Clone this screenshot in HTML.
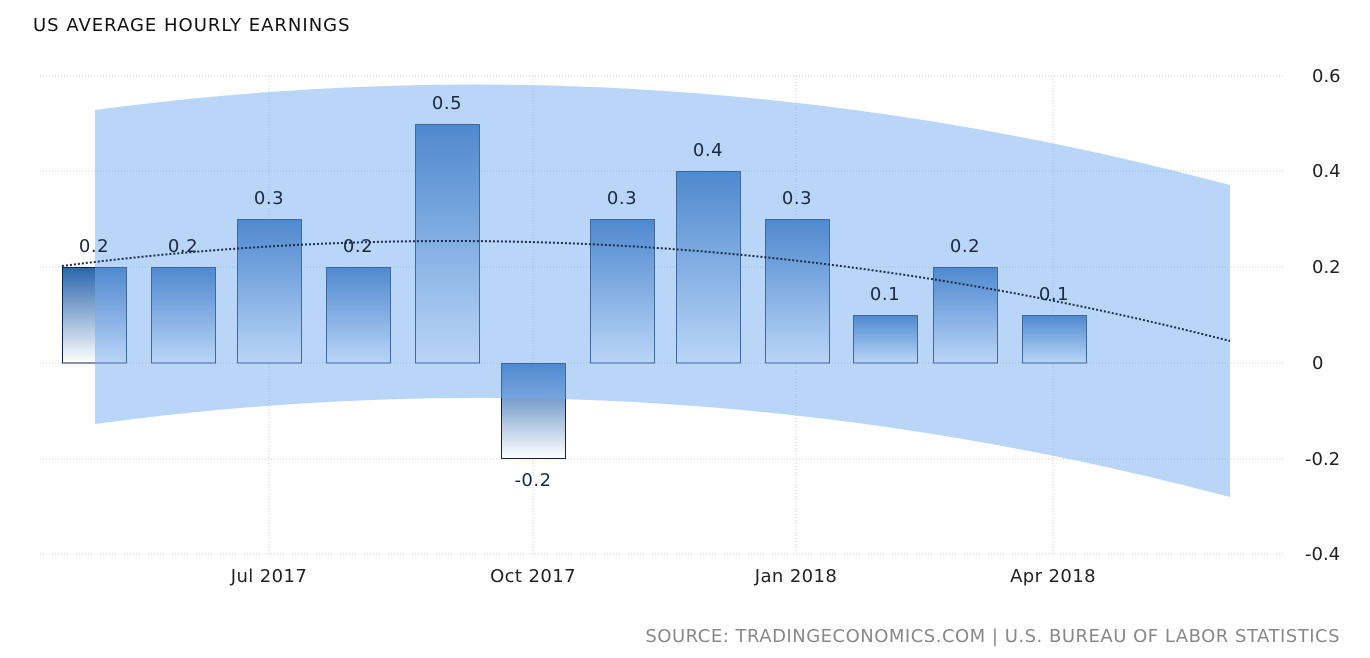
<!DOCTYPE html>
<html><head><style>body{margin:0;background:#fff}svg{display:block}text{font-family:"DejaVu Sans","Liberation Sans",sans-serif}</style></head><body>
<svg width="1370" height="658" viewBox="0 0 1370 658" xmlns="http://www.w3.org/2000/svg">
<defs><linearGradient id="g" x1="0" y1="0" x2="0" y2="1"><stop offset="0" stop-color="#2a66ad"/><stop offset="1" stop-color="#ffffff"/></linearGradient></defs>
<text x="33" y="31" font-size="18" fill="#111" letter-spacing="1">US AVERAGE HOURLY EARNINGS</text>
<g stroke="#cfcfcf" stroke-dasharray="1,2" stroke-width="1">
<line x1="40" y1="76" x2="1285" y2="76"/><line x1="40" y1="171" x2="1285" y2="171"/><line x1="40" y1="267" x2="1285" y2="267"/><line x1="40" y1="363" x2="1285" y2="363"/><line x1="40" y1="459" x2="1285" y2="459"/><line x1="40" y1="554" x2="1285" y2="554"/>
<line x1="269" y1="76" x2="269" y2="554"/><line x1="533" y1="76" x2="533" y2="554"/><line x1="796" y1="76" x2="796" y2="554"/><line x1="1053" y1="76" x2="1053" y2="554"/>
</g>
<g stroke="#0f2448" stroke-width="1" fill="url(#g)">
<rect x="62.5" y="267.5" width="64" height="95.5"/><rect x="151.5" y="267.5" width="64" height="95.5"/><rect x="237.5" y="219.5" width="64" height="143.5"/><rect x="326.5" y="267.5" width="64" height="95.5"/><rect x="415.5" y="124.5" width="64" height="238.5"/><rect x="501.5" y="363.5" width="64" height="95"/><rect x="590.5" y="219.5" width="64" height="143.5"/><rect x="676.5" y="171.5" width="64" height="191.5"/><rect x="765.5" y="219.5" width="64" height="143.5"/><rect x="853.5" y="315.5" width="64" height="47.5"/><rect x="933.5" y="267.5" width="64" height="95.5"/><rect x="1022.5" y="315.5" width="64" height="47.5"/>
</g>
<path d="M95,110 Q662,34 1230,185 L1230,497 Q662,347 95,424 Z" fill="rgba(115,172,240,0.5)"/>
<path d="M62,266 Q646,191 1230,341" fill="none" stroke="#1a2e50" stroke-width="2" stroke-dasharray="2,2"/>
<g font-size="18" fill="#1a2a44" text-anchor="middle" letter-spacing="0.5">
<text x="94" y="252">0.2</text><text x="183" y="252">0.2</text><text x="269" y="204">0.3</text><text x="358" y="252">0.2</text><text x="447" y="109">0.5</text><text x="533" y="486">-0.2</text><text x="622" y="204">0.3</text><text x="708" y="156">0.4</text><text x="797" y="204">0.3</text><text x="885" y="300">0.1</text><text x="965" y="252">0.2</text><text x="1054" y="300">0.1</text>
</g>
<g font-size="18" fill="#222" text-anchor="middle" letter-spacing="0.4">
<text x="269" y="582">Jul 2017</text><text x="533" y="582">Oct 2017</text><text x="796" y="582">Jan 2018</text><text x="1053" y="582">Apr 2018</text>
</g>
<g font-size="18" fill="#222">
<text x="1312" y="82">0.6</text><text x="1312" y="177">0.4</text><text x="1312" y="273">0.2</text><text x="1312" y="369">0</text><text x="1305" y="465">-0.2</text><text x="1305" y="560">-0.4</text>
</g>
<text x="1340" y="642" font-size="18" fill="#888" text-anchor="end" letter-spacing="0.5">SOURCE: TRADINGECONOMICS.COM | U.S. BUREAU OF LABOR STATISTICS</text>
</svg>
</body></html>
